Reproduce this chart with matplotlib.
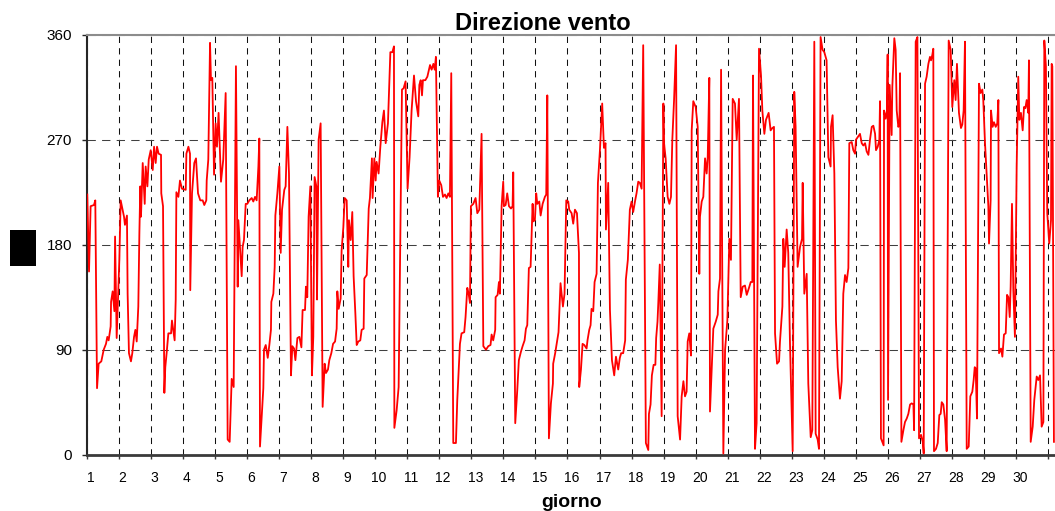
import matplotlib
matplotlib.use("Agg")
import matplotlib.pyplot as plt
from matplotlib.patches import Rectangle
from matplotlib.transforms import ScaledTranslation

plt.rcParams['font.family'] = ['Liberation Sans', 'DejaVu Sans']

# ore dall'inizio del mese (letture orarie, vertici principali)
ore = [
    0.5, 1.8, 3.0, 5.5, 6.5, 7.8, 9.0, 11.0, 12.8, 14.5, 15.5, 16.5, 18.0, 18.3, 19.5, 20.8, 21.3, 22.5, 23.5,
    24.5, 25.5, 28.0, 28.7, 30.2, 30.7, 31.7, 33.2, 34.2, 35.5, 36.5, 37.5, 38.7, 39.5, 40.2, 40.7, 42.0, 43.5,
    44.2, 45.5, 46.5, 48.0, 49.5, 50.5, 51.7, 52.7, 53.9, 55.7, 55.9, 57.2, 58.2, 58.9, 59.9, 61.2, 63.2, 63.9,
    65.9, 66.7, 67.2, 68.7, 69.9, 71.4, 74.2, 74.7, 76.2, 77.4, 77.6, 78.9, 80.6, 81.9, 83.4, 85.1, 86.9, 88.1,
    89.6, 89.9, 91.1, 92.4, 93.1, 94.1, 95.4, 96.6, 97.6, 98.8, 100.6, 102.3, 104.1, 105.6, 107.1, 108.6, 110.1,
    111.8, 113.1, 113.6,
    116.1, 116.8, 117.8, 119.1, 120.3, 121.8, 123.6, 124.8, 126.1, 127.3, 128.6, 129.3, 129.8, 132.3, 132.8,
    134.1, 135.6, 136.8, 138.0, 138.3, 139.8, 140.8, 141.3, 142.8, 144.3, 145.3, 146.3, 148.0, 149.0, 150.3,
    151.5, 153.0, 154.0, 155.3, 156.3, 157.8, 159.3, 160.8, 161.7, 163.5, 164.2, 165.2, 166.2, 167.5, 168.7,
    169.7, 170.7, 172.0, 172.5, 173.7, 175.2, 176.7, 178.2, 179.2, 180.7, 181.7, 183.2, 184.5, 186.0, 187.2,
    187.7, 188.7, 190.2, 190.9, 192.2, 193.2, 194.7, 195.9, 196.4, 197.7, 198.9, 199.9, 201.2, 202.2, 203.4,
    204.9, 205.9, 207.4, 207.9, 209.7, 211.2, 212.1, 213.6, 214.1, 215.4, 216.4, 217.1, 218.6, 219.9, 221.4,
    222.6, 223.9, 225.6, 227.4, 228.9, 230.1, 230.4, 232.1, 233.6, 236.1, 237.3, 238.8, 240.3, 241.8, 243.3,
    245.1, 246.6, 248.3, 249.1, 250.1, 251.1, 251.8, 253.6, 255.1, 257.1, 258.3, 259.6, 260.6, 261.5, 263.0,
    264.0, 265.5, 266.8, 268.3, 269.5, 270.8, 272.0, 273.0, 274.5, 276.5, 277.5, 279.5,
    280.7, 282.7, 283.7, 285.0, 286.0, 287.0, 287.7, 289.5, 291.2, 292.5, 294.0, 295.7, 297.0, 299.0, 300.7,
    302.4, 303.2, 304.4, 305.9, 306.2, 307.7, 308.7, 309.4, 310.7, 311.9, 312.4, 313.7, 314.9, 316.2, 317.7,
    318.9, 319.4, 320.9, 322.4, 323.6, 325.1, 326.4, 327.9, 328.9, 329.9, 331.1, 332.4, 333.9, 334.4, 335.6,
    336.6, 337.4, 338.9, 339.9, 341.4, 343.1, 344.1, 344.9, 346.1, 347.6, 349.1, 349.3, 350.8, 352.3, 353.3,
    354.8, 356.6, 357.8, 359.1, 360.6, 361.3, 363.1, 364.3, 365.6, 367.1, 368.6, 368.8, 370.1, 371.3, 372.6,
    374.3, 375.0, 376.3, 377.3, 378.0, 379.3, 380.3, 381.8, 382.8, 384.3, 386.0, 387.3, 388.5, 388.8, 390.5,
    391.8, 393.3, 395.0, 396.3, 398.0, 399.2, 400.2, 401.7, 403.2, 403.7, 405.2, 406.7, 408.0, 409.2, 410.7,
    411.7, 413.0, 414.2, 415.5, 416.7, 418.7, 420.5, 421.0, 422.2, 423.2, 424.5, 425.8, 426.4, 427.4, 428.0,
    429.1, 430.5,
    431.8, 432.3, 433.5, 435.0, 436.3, 437.5, 438.5, 439.8, 441.3, 442.5, 444.3, 445.5, 446.8, 448.0, 449.2,
    450.0, 451.2, 452.5, 453.0, 454.2, 456.0, 457.5, 458.7, 459.2, 460.5, 461.7, 463.0, 464.2, 465.0, 466.2,
    466.7, 468.2, 469.2, 471.0, 472.5, 473.0, 474.2, 475.0, 476.7, 478.0, 479.7, 481.2, 482.4, 483.7, 485.4,
    486.7, 488.4, 489.7, 491.2, 492.9, 494.2, 495.9, 497.2, 498.4, 498.9, 500.4, 501.6, 503.4, 504.9, 505.9,
    507.4, 508.6, 510.6, 512.1, 513.4, 514.6, 515.4, 516.9, 518.4, 519.1, 520.9, 521.6, 522.6, 524.1, 525.3,
    526.6, 528.6, 529.8, 530.8, 532.3, 534.1, 535.6, 536.1, 537.3, 539.1, 540.3, 542.1, 543.3, 544.8, 545.8,
    547.3, 548.3, 549.5, 551.0, 552.3, 554.0, 555.3, 557.0, 557.3, 558.5, 559.8, 561.0, 562.3, 564.0, 565.3,
    566.5, 567.8, 569.0, 570.3,
    571.0, 572.8, 574.0, 575.3, 576.0, 577.8, 579.0, 580.3, 581.5, 582.8, 584.0, 585.3, 586.5, 587.8, 589.0,
    590.3, 591.0, 592.3, 593.5, 594.0, 594.7, 596.7, 597.0, 598.2, 599.2, 599.7, 600.0, 601.2, 602.0, 602.7,
    603.2, 604.7, 605.7, 606.5, 607.7, 608.5, 609.0, 610.0, 611.5, 612.7, 614.0, 615.2, 616.5, 617.7, 619.0,
    619.5, 620.7, 622.0, 623.2, 624.7, 626.0, 626.7, 627.7, 628.9, 630.2, 631.4, 632.2, 633.2, 633.9, 634.4,
    635.9, 637.2, 638.4, 639.4, 640.2, 641.4, 642.7, 643.9, 645.4, 646.9, 648.1, 649.6, 650.6, 651.6, 653.1,
    654.6, 655.6, 656.6, 657.6, 658.9, 660.4, 661.6, 663.1, 664.1, 664.9, 665.6, 666.6, 668.1, 669.3, 670.6,
    671.3, 672.6, 673.8, 675.1, 675.6, 676.8, 677.1, 678.3, 679.3, 680.6, 681.8, 682.6, 683.1, 684.6, 685.6,
    686.8, 688.1, 689.1, 690.1, 691.1, 691.8, 692.8, 693.8, 695.0, 696.3, 697.5, 698.3, 699.5, 700.8, 701.8,
    702.8, 703.8, 705.0, 705.5, 706.8, 708.3, 709.5, 711.3, 712.5, 713.8, 715.0, 716.3, 717.0, 718.2, 719.2,
    720.7, 722.0, 722.5, 723.0, 724.2,
]

# direzione del vento in gradi
direzione = [
    223, 157, 213, 214, 218, 57, 78, 80, 90, 95, 101, 98, 110, 131, 140, 123, 187, 100, 133,
    167, 218, 204, 197, 205, 138, 87, 80, 87, 101, 107, 97, 127, 190, 230, 204, 250, 215,
    247, 230, 253, 261, 244, 264, 250, 264, 258, 257, 224, 213, 53, 75, 87, 104, 104, 115,
    98, 133, 225, 221, 235, 228, 227, 258, 264, 258, 141, 224, 250, 254, 224, 218, 218, 214,
    218, 235, 253, 353, 321, 323, 240, 284, 264, 293, 234, 253, 310, 13, 11, 65, 58,
    333, 144, 201,
    153, 178, 184, 215, 215, 218, 220, 217, 221, 218, 247, 271, 7, 57, 90,
    94, 83, 94, 107, 131, 138, 161, 205, 224, 247, 173, 210, 227, 230, 281,
    241, 68, 93, 91, 81, 100, 101, 92, 124, 124, 144, 135, 204, 230, 68,
    101, 238, 230, 133, 270, 284, 41, 78, 70, 73, 81, 87, 95, 97, 108,
    140, 125, 134, 175, 195, 220, 218, 161, 201, 184, 208, 153, 121, 94, 97,
    98, 107, 108, 151, 154, 211, 220, 254, 220, 254, 235, 251, 241, 264, 285,
    295, 267, 284, 345, 345, 350, 23, 38, 58, 313, 314, 320, 228, 255, 295,
    325, 303, 290, 317, 321, 308, 321, 321, 324, 334, 330, 335, 330, 341, 221,
    235, 231, 221, 223, 220, 224, 221, 327, 10, 10, 47, 95,
    104, 105, 118, 143, 138, 130, 213, 215, 220, 207, 210, 275, 93, 90, 93,
    94, 103, 98, 107, 135, 137, 148, 138, 213, 234, 213, 214, 224, 213, 211,
    213, 242, 27, 55, 81, 88, 93, 98, 108, 111, 160, 161, 215, 200, 201,
    224, 215, 217, 205, 215, 221, 223, 308, 14, 44, 61, 78, 87, 98, 105,
    147, 127, 138, 218, 217, 210, 207, 198, 210, 207, 173, 58, 73, 95, 94,
    91, 98, 107, 111, 125, 123, 148, 155, 233, 261, 301, 263, 267, 193, 233,
    124, 81, 68, 84, 73, 83, 87, 87, 98, 150, 167, 210, 217, 208, 218,
    224, 234, 233, 228, 351, 10, 4, 35, 43, 68, 77, 77, 100, 114, 130,
    163, 33,
    301, 267, 254, 221, 215, 221, 270, 304, 351, 33, 13, 50, 63, 50, 54,
    97, 104, 85, 278, 303, 298, 281, 155, 204, 217, 221, 254, 241, 255, 323,
    37, 81, 108, 114, 120, 140, 151, 330, 1, 90, 115, 185, 167, 305, 301,
    270, 305, 135, 144, 145, 137, 143, 148, 148, 325, 5, 27, 348, 325, 295,
    275, 287, 293, 278, 280, 281, 104, 78, 80, 97, 127, 185, 161, 193, 173,
    95, 3, 311, 281, 161, 178, 185, 233, 138, 155, 61, 15, 21, 354, 18,
    13, 5, 358, 347, 345, 338, 255, 247, 281, 291, 241, 115, 75, 48, 63,
    138, 154, 148, 160,
    267, 268, 261, 258, 270, 273, 275, 267, 265, 267, 260, 257, 270, 281, 282,
    275, 261, 264, 270, 303, 14, 8, 295, 288, 295, 343, 47, 317, 295, 274,
    315, 357, 347, 295, 281, 283, 327, 11, 21, 28, 31, 35, 43, 44, 43,
    21, 354, 358, 14, 17, 11, 1, 318, 324, 335, 341, 338, 343, 348, 3,
    5, 10, 34, 35, 45, 43, 30, 3, 355, 347, 298, 321, 304, 335, 293,
    280, 283, 295, 354, 5, 7, 50, 54, 64, 75, 74, 31, 318, 310, 313,
    304, 267, 241, 213, 181, 218, 295, 281, 285, 281, 284, 304, 87, 91, 84,
    103, 104, 137, 135, 118, 144, 215, 141, 101, 247, 324, 287, 293, 278, 298,
    297, 304, 293, 338, 11, 24, 47, 67, 64, 68, 24, 28, 355, 333, 207,
    181, 201, 335, 333, 11,
]

giorni = [str(g) for g in range(1, 31)]
y_ticks = [0, 90, 180, 270, 360]

fig = plt.figure(figsize=(10.55, 5.11), dpi=100)
ax = fig.add_axes([0.0821, 0.1102, 0.9179, 0.8219])

ax.plot(ore, direzione, color='#ff0000', lw=1.3, zorder=3)

ax.set_xlim(0, 725)
ax.set_ylim(0, 360)
ax.set_yticks(y_ticks)
ax.set_xticks(range(0, 721, 24))
ax.set_xticklabels(giorni + [''])

ax.yaxis.grid(True, color='#404040', lw=0.75, linestyle=(0, (8, 6)))
ax.xaxis.grid(True, color='#111111', lw=0.75, linestyle=(0, (6, 5)))
ax.set_axisbelow(True)

ax.spines['right'].set_visible(False)
ax.spines['top'].set_color('#8c8c8c')
ax.spines['top'].set_linewidth(1.5)
ax.spines['left'].set_color('#262626')
ax.spines['left'].set_linewidth(1.5)
ax.spines['bottom'].set_color('#3a3a3a')
ax.spines['bottom'].set_linewidth(2.0)

ax.tick_params(axis='y', length=3.6, width=1, color='#262626', pad=7, labelsize=11)
ax.tick_params(axis='x', length=3, width=1, color='#3a3a3a', pad=9, labelsize=10)
shift = ScaledTranslation(0.04, 0, fig.dpi_scale_trans)
for lbl in ax.get_xticklabels():
    lbl.set_transform(lbl.get_transform() + shift)

fig.text(0.5142, 0.9413, 'Direzione vento', ha='center', va='baseline',
         fontsize=17, fontweight='bold')
fig.text(0.5417, 0.0078, 'giorno', ha='center', va='baseline',
         fontsize=14, fontweight='bold')

# riquadro nero al posto dell'etichetta dell'asse y
fig.patches.append(Rectangle((0.0095, 0.4795), 0.0246, 0.0705, transform=fig.transFigure,
                             facecolor='black', edgecolor='none'))

fig.savefig('out.png', dpi=100)
plt.close(fig)
